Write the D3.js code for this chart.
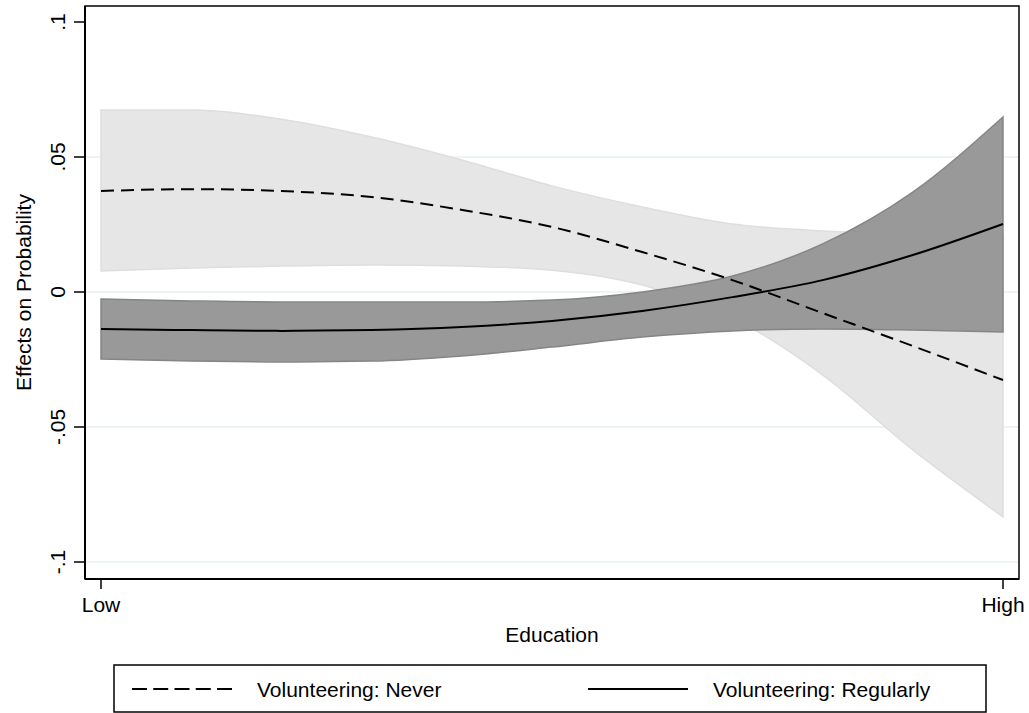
<!DOCTYPE html>
<html>
<head>
<meta charset="utf-8">
<script src="https://cdn.jsdelivr.net/npm/d3@7"></script>
<style>
  body { margin: 0; background: #fff; }
  text { font-family: "Liberation Sans", Arial, sans-serif; fill: #000; }
</style>
</head>
<body>
<svg id="chart" width="1029" height="713"></svg>
<script>
// education grid (0 = Low, 1 = High)
var edu = [0, 0.1, 0.2, 0.3, 0.4, 0.5, 0.6, 0.7, 0.8, 0.9, 1];

// Volunteering: Never
var neverMean = [0.0374, 0.0381, 0.0374, 0.0352, 0.0304, 0.0241, 0.0148, 0.0044, -0.0078, -0.0200, -0.0326];
var neverHi   = [0.0674, 0.0674, 0.0640, 0.0574, 0.0489, 0.0393, 0.0315, 0.0252, 0.0226, 0.0215, 0.0204];
var neverLo   = [0.0078, 0.0089, 0.0096, 0.0100, 0.0096, 0.0081, 0.0026, -0.0096, -0.0307, -0.0585, -0.0833];

// Volunteering: Regularly
var regMean = [-0.0137, -0.0141, -0.0144, -0.0141, -0.0130, -0.0107, -0.0070, -0.0019, 0.0044, 0.0137, 0.0252];
var regHi   = [-0.0026, -0.0033, -0.0037, -0.0037, -0.0037, -0.0030, 0.0000, 0.0059, 0.0178, 0.0370, 0.0648];
var regLo   = [-0.0248, -0.0256, -0.0259, -0.0256, -0.0237, -0.0204, -0.0167, -0.0144, -0.0137, -0.0141, -0.0148];

var yTicks = [-0.1, -0.05, 0, 0.05, 0.1];
var yTickLabels = ["-.1", "-.05", "0", ".05", ".1"];
var xTicks = [0, 1];
var xTickLabels = ["Low", "High"];
var legendLabels = ["Volunteering: Never", "Volunteering: Regularly"];

var svg = d3.select("#chart");
var plot = { left: 85, right: 1019, top: 6, bottom: 579 };

var x = d3.scaleLinear().domain([0, 1]).range([101, 1003]);
var y = d3.scaleLinear().domain([-0.1, 0.1]).range([562, 22]);

// gridlines
svg.append("g").selectAll("line")
    .data(yTicks.filter(d => d < 0.09))
    .join("line")
    .attr("x1", plot.left).attr("x2", plot.right)
    .attr("y1", d => y(d)).attr("y2", d => y(d))
    .attr("stroke", "#e8f0f2")
    .attr("stroke-width", 1.5);

var band = function(lo, hi) {
    return d3.area()
        .x((d, i) => x(edu[i]))
        .y0((d, i) => y(lo[i]))
        .y1((d, i) => y(hi[i]))
        .curve(d3.curveMonotoneX)(edu);
};
var line = function(vals) {
    return d3.line()
        .x((d, i) => x(edu[i]))
        .y((d, i) => y(vals[i]))
        .curve(d3.curveMonotoneX)(edu);
};

// confidence bands
svg.append("path")
    .attr("d", band(neverLo, neverHi))
    .attr("fill", "#e6e6e6")
    .attr("stroke", "#dedede")
    .attr("stroke-width", 1.5);

svg.append("path")
    .attr("d", band(regLo, regHi))
    .attr("fill", "#999999")
    .attr("stroke", "#858585")
    .attr("stroke-width", 1.5);

// estimate lines
svg.append("path")
    .attr("d", line(neverMean))
    .attr("fill", "none")
    .attr("stroke", "#000")
    .attr("stroke-width", 2)
    .attr("stroke-dasharray", "13,7");

svg.append("path")
    .attr("d", line(regMean))
    .attr("fill", "none")
    .attr("stroke", "#000")
    .attr("stroke-width", 2);

// plot frame
svg.append("rect")
    .attr("x", plot.left).attr("y", plot.top)
    .attr("width", plot.right - plot.left)
    .attr("height", plot.bottom - plot.top)
    .attr("fill", "none")
    .attr("stroke", "#000")
    .attr("stroke-width", 1.5);

svg.append("line")
    .attr("x1", plot.left).attr("x2", plot.left)
    .attr("y1", plot.top).attr("y2", plot.bottom)
    .attr("stroke", "#000").attr("stroke-width", 2);
svg.append("line")
    .attr("x1", plot.left).attr("x2", plot.right)
    .attr("y1", plot.bottom).attr("y2", plot.bottom)
    .attr("stroke", "#000").attr("stroke-width", 2);

// y axis ticks + labels
var yAx = svg.append("g");
yAx.selectAll("line")
    .data(yTicks)
    .join("line")
    .attr("x1", plot.left - 11).attr("x2", plot.left)
    .attr("y1", d => y(d)).attr("y2", d => y(d))
    .attr("stroke", "#000").attr("stroke-width", 1.5);
yAx.selectAll("text")
    .data(yTicks)
    .join("text")
    .attr("transform", d => `translate(65,${y(d)}) rotate(-90)`)
    .attr("text-anchor", "middle")
    .style("font-size", "21px")
    .text((d, i) => yTickLabels[i]);

// x axis ticks + labels
var xAx = svg.append("g");
xAx.selectAll("line")
    .data(xTicks)
    .join("line")
    .attr("x1", d => x(d)).attr("x2", d => x(d))
    .attr("y1", plot.bottom).attr("y2", plot.bottom + 10)
    .attr("stroke", "#000").attr("stroke-width", 1.5);
xAx.selectAll("text")
    .data(xTicks)
    .join("text")
    .attr("x", d => x(d))
    .attr("y", 612)
    .attr("text-anchor", "middle")
    .style("font-size", "21px")
    .text((d, i) => xTickLabels[i]);

// axis titles
svg.append("text")
    .attr("x", (plot.left + plot.right) / 2)
    .attr("y", 642)
    .attr("text-anchor", "middle")
    .style("font-size", "21px")
    .text("Education");

svg.append("text")
    .attr("transform", `translate(31,${(plot.top + plot.bottom) / 2}) rotate(-90)`)
    .attr("text-anchor", "middle")
    .style("font-size", "21px")
    .text("Effects on Probability");

// legend
var legend = svg.append("g");
legend.append("rect")
    .attr("x", 114).attr("y", 665)
    .attr("width", 872).attr("height", 47)
    .attr("fill", "#fff")
    .attr("stroke", "#000")
    .attr("stroke-width", 1.5);

var legX = [132, 588];
legendLabels.forEach(function(lbl, i) {
    var g = legend.append("g").attr("transform", `translate(${legX[i]},689)`);
    g.append("line")
        .attr("x1", 0).attr("x2", 100)
        .attr("y1", 0).attr("y2", 0)
        .attr("stroke", "#000")
        .attr("stroke-width", 2)
        .attr("stroke-dasharray", i === 0 ? "15,6.25" : null);
    g.append("text")
        .attr("x", 125)
        .attr("y", 8)
        .style("font-size", "21px")
        .text(lbl);
});
</script>
</body>
</html>
